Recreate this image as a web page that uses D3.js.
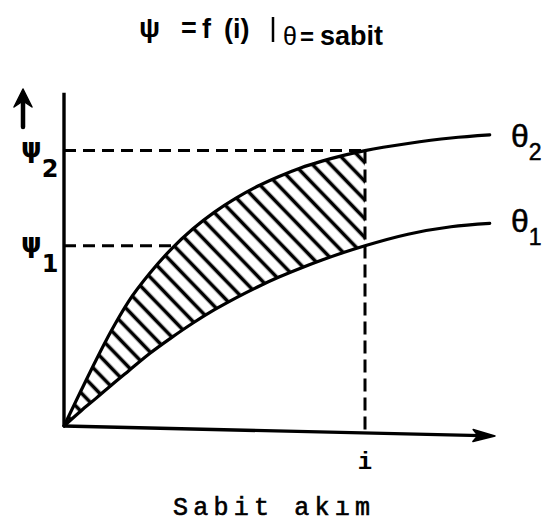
<!DOCTYPE html>
<html>
<head>
<meta charset="utf-8">
<script src="https://cdn.jsdelivr.net/npm/d3@7"></script>
<style>
  html, body { margin: 0; padding: 0; background: #fff; }
  svg { display: block; }
</style>
</head>
<body>
<svg id="chart" width="545" height="524"></svg>
<script>
// Excitation current values, shared by both flux curves
const current = [0, 0.4, 0.75, 1.1, 1.5, 2, 2.5, 3, 3.5, 4, 4.5, 5, 5.5, 6, 6.5, 7, 8, 9, 9.9];
// Flux linkage ψ at temperature θ2
const psiTheta2 = [0, 1.05, 1.95, 2.8, 3.66, 4.5, 5.21, 5.8, 6.29, 6.7, 7.05, 7.34, 7.59, 7.79, 7.96, 8.1, 8.31, 8.47, 8.56];
// Flux linkage ψ at temperature θ1
const psiTheta1 = [0, 0.45, 0.82, 1.2, 1.62, 2.14, 2.6, 3.03, 3.42, 3.77, 4.09, 4.38, 4.64, 4.88, 5.1, 5.3, 5.64, 5.86, 5.96];
// Operating current i (constant current)
const iValue = 7;
// Curve and level labels
const curveNames = [["θ", "2"], ["θ", "1"]];
const levelNames = [["ψ", "2"], ["ψ", "1"]];
const xAxisTitle = "Sabit akım";
const iLabel = "i";

const svg = d3.select("#chart");
const ink = "#000";

const x = d3.scaleLinear().domain([0, 10]).range([64, 494]);
const y = d3.scaleLinear().domain([0, 10]).range([426, 86]);

const points = current.map((c, k) => ({ c, t1: psiTheta1[k], t2: psiTheta2[k] }));
const iIndex = current.indexOf(iValue);
const levels = [psiTheta2[iIndex], psiTheta1[iIndex]];

// diagonal hatch
const defs = svg.append("defs");
const pat = defs.append("pattern")
  .attr("id", "hatch")
  .attr("patternUnits", "userSpaceOnUse")
  .attr("width", 13).attr("height", 13)
  .attr("patternTransform", "rotate(46)");
pat.append("rect").attr("width", 13).attr("height", 13).attr("fill", "#fff");
pat.append("line")
  .attr("x1", 0).attr("x2", 13).attr("y1", 6.5).attr("y2", 6.5)
  .attr("stroke", ink).attr("stroke-width", 3.6);

// title: ψ = f (i) |θ = sabit
const title = svg.append("g")
  .attr("font-family", "'Liberation Sans', Arial, sans-serif")
  .attr("font-weight", "bold").attr("fill", ink);
title.append("text").attr("x", 139).attr("y", 37).attr("font-size", 28).text("ψ");
title.append("text").attr("x", 181).attr("y", 37).attr("font-size", 27).text("=");
title.append("text").attr("x", 202).attr("y", 38).attr("font-size", 27).text("f");
title.append("text").attr("x", 224).attr("y", 38).attr("font-size", 27).text("(i)");
title.append("line").attr("x1", 273).attr("x2", 273).attr("y1", 17).attr("y2", 42)
  .attr("stroke", ink).attr("stroke-width", 2.5);
title.append("text").attr("x", 283).attr("y", 45).attr("font-size", 25).attr("font-weight", "normal").text("θ");
title.append("text").attr("x", 300).attr("y", 45).attr("font-size", 24).text("=");
title.append("text").attr("x", 320).attr("y", 45).attr("font-size", 27).text("sabit");

// ψ reference levels (dashed), drawn under the hatched band
svg.append("g").selectAll("line").data(levels).join("line")
  .attr("x1", x(0)).attr("x2", x(iValue))
  .attr("y1", d => y(d)).attr("y2", d => y(d))
  .attr("stroke", ink).attr("stroke-width", 3)
  .attr("stroke-dasharray", "12,7");

// hatched band between the two curves up to i
const band = d3.area()
  .x(d => x(d.c)).y0(d => y(d.t1)).y1(d => y(d.t2))
  .curve(d3.curveMonotoneX);
svg.append("path")
  .datum(points.filter(p => p.c <= iValue))
  .attr("d", band)
  .attr("fill", "url(#hatch)");

// vertical dashed line at i, down to the current axis
const tilt = Math.atan2(10, 431);
const axisYAtI = y(0) + (x(iValue) - x(0)) * Math.tan(tilt);
svg.append("line")
  .attr("x1", x(iValue)).attr("x2", x(iValue))
  .attr("y1", y(levels[0])).attr("y2", axisYAtI)
  .attr("stroke", ink).attr("stroke-width", 3)
  .attr("stroke-dasharray", "13,6");

// flux curves
const line = d3.line().curve(d3.curveMonotoneX);
[psiTheta2, psiTheta1].forEach(series => {
  svg.append("path")
    .attr("d", line(current.map((c, k) => [x(c), y(series[k])])))
    .attr("fill", "none").attr("stroke", ink)
    .attr("stroke-width", 3.2).attr("stroke-linecap", "round");
});

// ψ axis
svg.append("line")
  .attr("x1", x(0)).attr("x2", x(0)).attr("y1", y(0)).attr("y2", y(9.8))
  .attr("stroke", ink).attr("stroke-width", 3.4);

// current axis, slightly tilted, with arrow head
const axisLen = Math.hypot(431, 10);
const xAxis = svg.append("g")
  .attr("transform", `rotate(${tilt * 180 / Math.PI}, ${x(0)}, ${y(0)})`);
xAxis.append("line")
  .attr("x1", x(0)).attr("x2", x(0) + axisLen - 14)
  .attr("y1", y(0)).attr("y2", y(0))
  .attr("stroke", ink).attr("stroke-width", 3.4);
const tipX = x(0) + axisLen, ay = y(0);
xAxis.append("path")
  .attr("d", `M${tipX},${ay} L${tipX - 22},${ay - 6} L${tipX - 17},${ay} L${tipX - 22},${ay + 6} Z`)
  .attr("fill", ink).attr("stroke", ink).attr("stroke-width", 1.5).attr("stroke-linejoin", "round");

// loose upward arrow beside the ψ axis
svg.append("line")
  .attr("x1", 23).attr("x2", 23).attr("y1", 127).attr("y2", 98)
  .attr("stroke", ink).attr("stroke-width", 4.5).attr("stroke-linecap", "round");
svg.append("path")
  .attr("d", "M23,89 L32,107 L23,101 L14,107 Z")
  .attr("fill", ink).attr("stroke", ink).attr("stroke-width", 1.5).attr("stroke-linejoin", "round");

// ψ level labels
const levelLabelPos = [[21, 157], [21, 252]];
levelNames.forEach(([n, s], k) => {
  const t = svg.append("text")
    .attr("x", levelLabelPos[k][0]).attr("y", levelLabelPos[k][1])
    .attr("font-family", "'DejaVu Sans', sans-serif").attr("font-weight", "bold")
    .attr("fill", ink).attr("font-size", 26);
  t.append("tspan").text(n);
  t.append("tspan").attr("dy", 20).attr("font-size", 24).text(s);
});

// θ curve labels
const curveLabelPos = [[511, 147], [511, 232]];
curveNames.forEach(([n, s], k) => {
  const t = svg.append("text")
    .attr("x", curveLabelPos[k][0]).attr("y", curveLabelPos[k][1])
    .attr("font-family", "'Liberation Sans', Arial, sans-serif")
    .attr("fill", ink).attr("font-size", 32)
    .attr("stroke", ink).attr("stroke-width", 0.5);
  t.append("tspan").text(n);
  t.append("tspan").attr("dy", 13).attr("font-size", 23).text(s);
});

// i marker below the axis
svg.append("text")
  .attr("x", x(iValue)).attr("y", 469)
  .attr("text-anchor", "middle")
  .attr("font-family", "'Liberation Mono', monospace").attr("font-weight", "bold")
  .attr("font-size", 24).attr("fill", ink)
  .text(iLabel);

// axis caption
svg.append("text")
  .attr("x", 173).attr("y", 515)
  .attr("font-family", "'Liberation Mono', 'Courier New', monospace")
  .attr("font-size", 25).attr("fill", ink)
  .attr("stroke", ink).attr("stroke-width", 0.6)
  .attr("textLength", 197).attr("lengthAdjust", "spacing")
  .text(xAxisTitle);
</script>
</body>
</html>
